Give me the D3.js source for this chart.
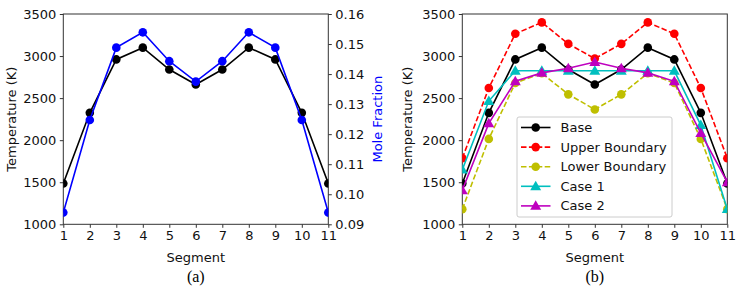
<!DOCTYPE html>
<html><head><meta charset="utf-8">
<script src="https://cdn.jsdelivr.net/npm/d3@7"></script>
<style>body{margin:0;background:#fff}svg{display:block}text{font-family:"DejaVu Sans",sans-serif}</style>
</head><body><svg id="c" width="748" height="289"></svg>
<script>
const segments = [1,2,3,4,5,6,7,8,9,10,11];
const tempTicks = [1000,1500,2000,2500,3000,3500];
const moleTicks = [0.09,0.10,0.11,0.12,0.13,0.14,0.15,0.16];
const baseTemp = [1485,2325,2960,3100,2840,2662,2840,3100,2960,2325,1485];
const moleFraction = [0.0939,0.1247,0.1488,0.1539,0.1443,0.1375,0.1443,0.1539,0.1488,0.1247,0.0939];
const upperTemp = [1785,2620,3265,3400,3145,2970,3145,3400,3265,2620,1785];
const lowerTemp = [1180,2015,2680,2795,2545,2365,2545,2795,2680,2015,1180];
const case1Temp = [1650,2465,2825,2825,2825,2825,2825,2825,2825,2180,1180];
const case2Temp = [1405,2200,2700,2800,2855,2930,2855,2800,2700,2085,1500];
const seriesB = [
  {name:"Base", values:baseTemp, color:"#000000", dash:null, marker:"circle"},
  {name:"Upper Boundary", values:upperTemp, color:"#ff0000", dash:"5.5,2.4", marker:"circle"},
  {name:"Lower Boundary", values:lowerTemp, color:"#bfbf00", dash:"5.5,2.4", marker:"circle"},
  {name:"Case 1", values:case1Temp, color:"#00bfbf", dash:null, marker:"triangle"},
  {name:"Case 2", values:case2Temp, color:"#bf00bf", dash:null, marker:"triangle"}
];

const svg = d3.select("#c");
const pTop = 14, pBottom = 224.3;
const fs = 13;

function drawMarker(g, m, x, y, color){
  if(m==="circle"){
    g.append("circle").attr("cx",x).attr("cy",y).attr("r",4.3).attr("fill",color);
  } else {
    g.append("path").attr("d", d3.symbol(d3.symbolTriangle, 52)()).attr("transform",`translate(${x},${y+0.8})`).attr("fill",color);
  }
}

function panel(x0, x1, id, labelOff){
  const x = d3.scaleLinear().domain([1,11]).range([x0,x1]);
  const y = d3.scaleLinear().domain([1000,3500]).range([pBottom, pTop]);
  const g = svg.append("g");
  g.append("defs").append("clipPath").attr("id",id).append("rect")
    .attr("x",x0).attr("y",pTop).attr("width",x1-x0).attr("height",pBottom-pTop);
  const xa = g.append("g").attr("transform",`translate(0,${pBottom})`)
    .call(d3.axisBottom(x).tickValues(segments).tickFormat(d3.format("d")).tickSize(3.5).tickPadding(3));
  const ya = g.append("g").attr("transform",`translate(${x0},0)`)
    .call(d3.axisLeft(y).tickValues(tempTicks).tickFormat(d3.format("d")).tickSize(3.5).tickPadding(3.5));
  [xa,ya].forEach(a=>{a.selectAll("text").attr("font-size",fs).attr("fill","#111").style("font-family","DejaVu Sans");
    a.select(".domain").remove(); a.selectAll("line").attr("stroke","#333");});
  g.append("rect").attr("x",x0).attr("y",pTop).attr("width",x1-x0).attr("height",pBottom-pTop)
    .attr("fill","none").attr("stroke","#333").attr("stroke-width",1);
  g.append("text").attr("x",(x0+x1)/2).attr("y",262).attr("text-anchor","middle").attr("font-size",fs).attr("fill","#111").text("Segment");
  g.append("text").attr("transform",`translate(${x0-labelOff},${(pTop+pBottom)/2}) rotate(-90)`).attr("text-anchor","middle").attr("dy","0.35em")
    .attr("font-size",fs).attr("fill","#111").text("Temperature (K)");
  return {x,y,g};
}

// Panel (a)
{
  const {x,y,g} = panel(63.3, 328.3, "clipA", 51.5);
  const y2 = d3.scaleLinear().domain([0.09,0.16]).range([pBottom, pTop]);
  const ra = g.append("g").attr("transform",`translate(328.3,0)`)
    .call(d3.axisRight(y2).tickValues(moleTicks).tickFormat(d3.format(".2f")).tickSize(3.5).tickPadding(3.5));
  ra.select(".domain").remove(); ra.selectAll("line").attr("stroke","#333");
  ra.selectAll("text").attr("font-size",fs).attr("fill","#111");
  g.append("text").attr("transform",`translate(377,${(pTop+pBottom)/2}) rotate(-90)`).attr("text-anchor","middle").attr("dy","0.35em")
    .attr("font-size",fs).attr("fill","#0000ff").text("Mole Fraction");
  const pg = g.append("g").attr("clip-path","url(#clipA)");
  pg.append("path").datum(baseTemp).attr("fill","none").attr("stroke","#000").attr("stroke-width",1.6)
    .attr("d", d3.line().x((d,i)=>x(segments[i])).y(d=>y(d)));
  baseTemp.forEach((d,i)=>drawMarker(pg,"circle",x(segments[i]),y(d),"#000"));
  pg.append("path").datum(moleFraction).attr("fill","none").attr("stroke","#0000ff").attr("stroke-width",1.6)
    .attr("d", d3.line().x((d,i)=>x(segments[i])).y(d=>y2(d)));
  moleFraction.forEach((d,i)=>drawMarker(pg,"circle",x(segments[i]),y2(d),"#0000ff"));
  g.append("text").attr("x",(63.3+328.3)/2).attr("y",282).attr("text-anchor","middle").attr("font-size",16)
    .style("font-family","'Liberation Serif',serif").attr("fill","#000").text("(a)");
}

// Panel (b)
{
  const {x,y,g} = panel(462.3, 727.3, "clipB", 55);
  const pg = g.append("g").attr("clip-path","url(#clipB)");
  seriesB.forEach(s=>{
    pg.append("path").datum(s.values).attr("fill","none").attr("stroke",s.color).attr("stroke-width",1.6)
      .attr("stroke-dasharray",s.dash).attr("d", d3.line().x((d,i)=>x(segments[i])).y(d=>y(d)));
    s.values.forEach((d,i)=>drawMarker(pg,s.marker,x(segments[i]),y(d),s.color));
  });
  const lg = g.append("g");
  lg.append("rect").attr("x",517).attr("y",117).attr("width",155).attr("height",100).attr("rx",2)
    .attr("fill","#fff").attr("fill-opacity",0.85).attr("stroke","#ccc");
  seriesB.forEach((s,i)=>{
    const yy = 127.5 + i*19.6;
    lg.append("line").attr("x1",521).attr("x2",550.5).attr("y1",yy).attr("y2",yy).attr("stroke",s.color)
      .attr("stroke-width",1.6).attr("stroke-dasharray",s.dash);
    drawMarker(lg,s.marker,535.7,yy,s.color);
    lg.append("text").attr("x",560.5).attr("y",yy).attr("dy","0.35em").attr("font-size",fs).attr("fill","#111").text(s.name);
  });
  g.append("text").attr("x",(462.3+727.3)/2).attr("y",282).attr("text-anchor","middle").attr("font-size",16)
    .style("font-family","'Liberation Serif',serif").attr("fill","#000").text("(b)");
}
</script></body></html>
